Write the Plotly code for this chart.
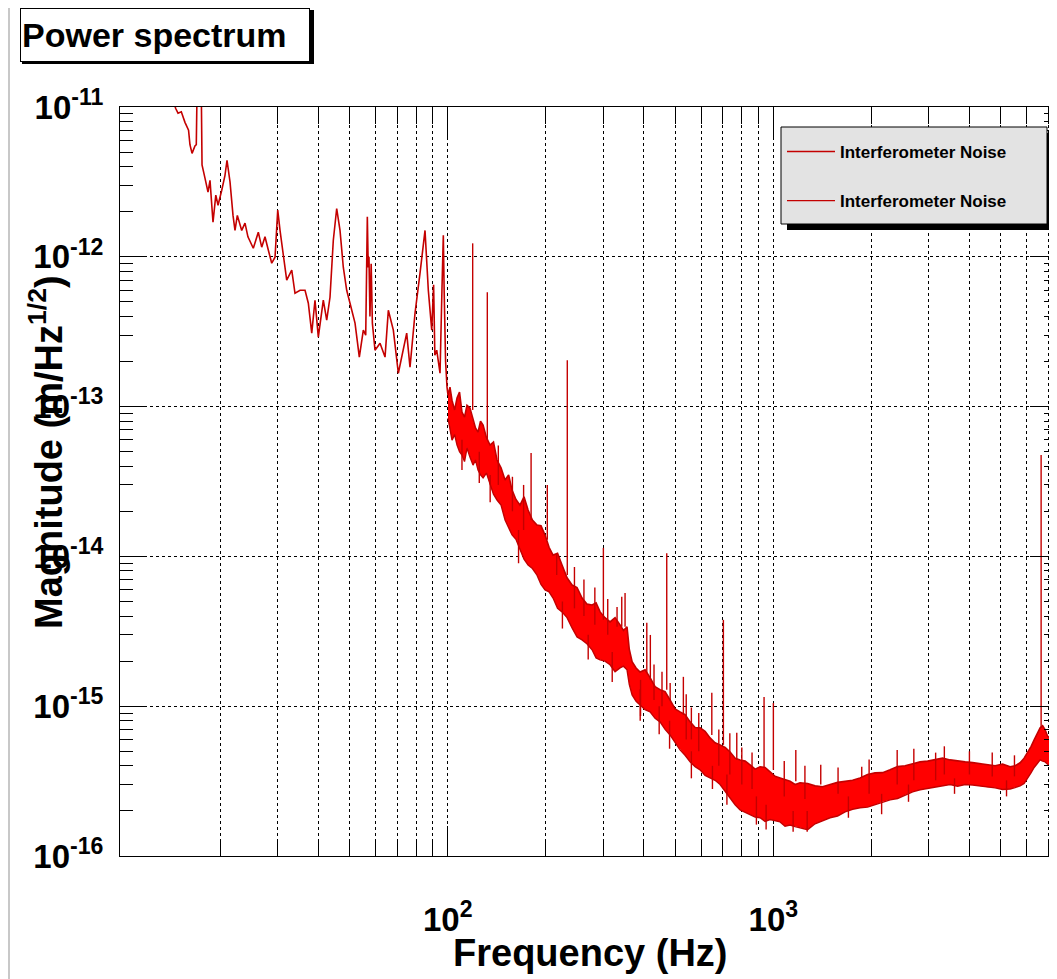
import plotly.graph_objects as go

# low-frequency part of the spectrum (thin jagged line), Hz / m/sqrt(Hz)
lf_freq = [14.0, 14.3, 14.6, 14.85, 15.2, 15.6, 16.0, 16.16, 16.4, 16.74, 16.9, 17.0, 17.5, 17.6,
           17.97, 18.36, 18.62, 18.9, 19.02, 19.4, 19.71, 20.23, 20.7, 21.0, 21.45, 21.91, 22.22,
           22.59, 23.3, 23.85, 24.35, 25.29, 26.2, 26.84, 27.47, 28.12, 28.81, 29.49, 30.06, 30.55,
           31.27, 32.03, 33.19, 33.96, 35.2, 36.46, 37.32, 38.23, 39.12, 40.05, 41.49, 42.5, 43.5,
           44.53, 45.61, 46.69, 47.79, 48.95, 50.11, 51.92, 53.52, 55.06, 56.0, 56.64, 57.0, 57.3,
           57.7, 58.2, 58.7, 59.8, 61.96, 64.19, 65.71, 68.07, 70.52, 73.06, 74.82, 76.59, 79.35,
           82.21, 85.17, 87.18, 89.31, 90.5, 91.3, 92.52, 94.71, 96.0, 96.94, 97.5, 98.5, 99.5]
lf_mag = [1.2e-11, 1.15e-11, 9.8e-12, 9.1e-12, 9.3e-12, 7.9e-12, 7.0e-12, 5.6e-12, 4.9e-12, 5.5e-12,
          5.6e-12, 1.4e-11, 1.4e-11, 4.1e-12, 3.35e-12, 2.7e-12, 3.24e-12, 2.11e-12, 1.7e-12, 2.58e-12,
          2.21e-12, 2.78e-12, 3.5e-12, 4.41e-12, 3.16e-12, 1.89e-12, 1.5e-12, 1.89e-12, 1.5e-12,
          1.68e-12, 1.36e-12, 1.14e-12, 1.46e-12, 1.16e-12, 1.36e-12, 1.11e-12, 9.06e-13, 9.93e-13,
          2.05e-12, 1.5e-12, 1.06e-12, 6.98e-13, 8.14e-13, 5.71e-13, 5.98e-13, 5.98e-13, 4.9e-13,
          3.09e-13, 5.13e-13, 2.91e-13, 5.13e-13, 3.78e-13, 5.37e-13, 1.29e-12, 2.1e-12, 1.5e-12,
          8.52e-13, 5.98e-13, 4.9e-13, 3.61e-13, 2.14e-13, 3.24e-13, 3.0e-13, 1.85e-12, 8.5e-13,
          1.0e-12, 4.0e-13, 9.0e-13, 3.6e-13, 2.38e-13, 2.65e-13, 2.14e-13, 4.4e-13, 3.24e-13,
          1.67e-13, 2.38e-13, 3.09e-13, 1.83e-13, 4.2e-13, 7.78e-13, 1.5e-12, 5.98e-13, 3.24e-13,
          6.5e-13, 2.2e-13, 2.38e-13, 1.67e-13, 6.0e-13, 1.39e-12, 5.98e-13, 2.0e-13, 1.35e-13]

# dense noise band above ~100 Hz: upper and lower edge
band_freq = [100.2, 101.6, 103.1, 105.0, 106.8, 108.7, 110.6, 112.6, 114.6, 117.0, 119.6, 121.7,
             123.9, 126.1, 128.4, 131.5, 134.9, 138.2, 141.7, 145.8, 150.0, 153.8, 157.6, 162.0,
             166.7, 171.5, 176.5, 182.0, 188.0, 193.4, 199.0, 204.7, 210.6, 217.4, 224.4, 232.5,
             240.9, 249.5, 258.5, 268.0, 277.5, 285.5, 293.7, 304.0, 315.1, 326.5, 338.2, 346.5,
             355.3, 361.0, 368.3, 378.8, 389.6, 403.7, 418.2, 433.2, 448.7, 465.0, 481.6, 499.0,
             517.0, 535.6, 554.9, 575.0, 595.6, 617.0, 639.2, 662.0, 686.1, 711.0, 736.4, 763.0,
             790.3, 819.0, 848.2, 879.0, 910.3, 943.0, 977.0, 1012, 1048.6, 1086, 1125.4, 1166,
             1207.9, 1274, 1343, 1416, 1493, 1575, 1661, 1751, 1846, 1947, 2053, 2165, 2283, 2407,
             2539, 2677, 2822, 2976, 3138, 3309, 3489, 3679, 3880, 4091, 4314, 4549, 4797, 5058,
             5333, 5525, 5725, 5889, 6058, 6188, 6321, 6457, 6596, 6713, 6833, 6954, 7078, 7250,
             7437]
band_hi = [1.19e-13, 1.35e-13, 1.10e-13, 9.5e-14, 1.14e-13, 1.25e-13, 9.19e-14, 8.5e-14, 1.02e-13,
           9.8e-14, 8.13e-14, 7.2e-14, 6.76e-14, 8.0e-14, 7.53e-14, 6.2e-14, 5.54e-14, 5.8e-14,
           4.40e-14, 3.9e-14, 3.24e-14, 3.5e-14, 2.77e-14, 2.4e-14, 2.20e-14, 2.5e-14, 2.04e-14,
           1.75e-14, 1.62e-14, 1.6e-14, 1.39e-14, 1.15e-14, 1.02e-14, 1.05e-14, 8.76e-15, 7.2e-15,
           6.44e-15, 6.2e-15, 5.27e-15, 4.8e-15, 4.74e-15, 4.9e-15, 4.26e-15, 3.9e-15, 3.65e-15,
           3.9e-15, 3.49e-15, 3.2e-15, 3.39e-15, 2.4e-15, 1.98e-15, 1.8e-15, 1.69e-15, 1.75e-15,
           1.55e-15, 1.35e-15, 1.29e-15, 1.25e-15, 1.10e-15, 9.6e-16, 9.16e-16, 8.8e-16, 7.86e-16,
           7.2e-16, 7.17e-16, 6.8e-16, 6.14e-16, 5.7e-16, 5.52e-16, 5.3e-16, 4.95e-16, 4.5e-16,
           4.38e-16, 4.3e-16, 4.06e-16, 3.8e-16, 3.94e-16, 3.9e-16, 3.65e-16, 3.4e-16, 3.32e-16,
           3.25e-16, 3.15e-16, 3.0e-16, 3.08e-16, 3.05e-16, 2.94e-16, 2.9e-16, 2.99e-16, 3.1e-16,
           3.15e-16, 3.2e-16, 3.32e-16, 3.5e-16, 3.59e-16, 3.6e-16, 3.76e-16, 3.95e-16, 4.0e-16,
           4.1e-16, 4.25e-16, 4.3e-16, 4.38e-16, 4.5e-16, 4.38e-16, 4.3e-16, 4.25e-16, 4.2e-16,
           4.12e-16, 4.05e-16, 4.0e-16, 4.1e-16, 3.94e-16, 4.0e-16, 4.19e-16, 4.5e-16, 4.95e-16,
           5.4e-16, 5.96e-16, 6.6e-16, 7.17e-16, 7.4e-16, 6.95e-16, 6.3e-16, 6.14e-16, 5.2e-16,
           4.52e-16]
band_lo = [8.38e-14, 7.0e-14, 5.97e-14, 6.5e-14, 5.54e-14, 5.0e-14, 4.75e-14, 4.3e-14, 5.29e-14,
           4.6e-14, 4.07e-14, 4.4e-14, 3.77e-14, 3.5e-14, 3.34e-14, 3.6e-14, 2.99e-14, 2.6e-14,
           2.38e-14, 2.2e-14, 1.75e-14, 1.55e-14, 1.39e-14, 1.3e-14, 1.10e-14, 9.6e-15, 8.76e-15,
           8.3e-15, 7.5e-15, 6.5e-15, 5.97e-15, 5.8e-15, 5.27e-15, 4.5e-15, 4.26e-15, 3.9e-15,
           3.33e-15, 2.9e-15, 2.77e-15, 2.6e-15, 2.38e-15, 2.1e-15, 2.04e-15, 2.0e-15, 1.89e-15,
           1.7e-15, 1.80e-15, 1.85e-15, 1.75e-15, 1.4e-15, 1.19e-15, 1.08e-15, 1.02e-15, 9.5e-16,
           9.16e-16, 8.3e-16, 7.86e-16, 7.0e-16, 6.43e-16, 5.7e-16, 5.11e-16, 4.7e-16, 4.25e-16,
           3.95e-16, 3.76e-16, 3.45e-16, 3.32e-16, 3.2e-16, 3.0e-16, 2.7e-16, 2.44e-16, 2.2e-16,
           2.03e-16, 1.95e-16, 1.88e-16, 1.82e-16, 1.80e-16, 1.7e-16, 1.75e-16, 1.72e-16, 1.69e-16,
           1.58e-16, 1.61e-16, 1.57e-16, 1.54e-16, 1.5e-16, 1.64e-16, 1.72e-16, 1.80e-16, 1.85e-16,
           1.97e-16, 2.05e-16, 2.10e-16, 2.12e-16, 2.20e-16, 2.3e-16, 2.37e-16, 2.42e-16, 2.56e-16,
           2.68e-16, 2.77e-16, 2.82e-16, 2.90e-16, 2.95e-16, 3.0e-16, 2.92e-16, 3.0e-16, 2.98e-16,
           2.94e-16, 2.88e-16, 2.85e-16, 2.78e-16, 2.80e-16, 2.86e-16, 2.94e-16, 3.05e-16, 3.32e-16,
           3.6e-16, 3.9e-16, 4.1e-16, 4.38e-16, 4.3e-16, 4.25e-16, 4.1e-16, 4.0e-16, 3.8e-16,
           3.65e-16]

# narrow lines sticking out of the band (from / to)
spike_freq = [119.3, 132.3, 180.3, 202.2, 216.1, 232.9, 300.6, 331.1, 342.3, 350.4, 408.6, 419.0,
              470.5, 482.0, 529.2, 647.1, 702.3, 772.0, 936.3, 1000.0, 1172.0, 1398.0, 1868.0,
              6641.0, 110.6, 125.0, 391.0, 446.0, 650.0, 887.0, 1270.0, 1968.0, 2150.0, 3150.0,
              143, 158, 171, 245, 262, 283, 310, 430, 455, 540, 560, 590, 680, 735, 800, 860,
              1080, 1250, 1580, 2400, 2700, 3350, 4000, 4700, 5500,
              135, 165, 225, 270, 320, 390, 480, 560, 720, 950, 1150, 1700, 2600, 3600, 5200]
spike_base = [9.5e-14, 6.0e-14, 1.75e-14, 1.29e-14, 7.5e-15, 7.5e-15, 3.77e-15, 3.39e-15, 3.39e-15,
              3.39e-15, 1.67e-15, 1.50e-15, 1.29e-15, 1.10e-15, 8.75e-16, 6.43e-16, 5.52e-16,
              4.38e-16, 3.9e-16, 3.76e-16, 3.15e-16, 3.0e-16, 3.35e-16, 7.17e-16, 6.0e-14, 5.0e-14,
              1.5e-15, 1.0e-15, 4.0e-16, 2.5e-16, 2.0e-16, 2.6e-16, 2.6e-16, 3.2e-16,
              3.0e-14, 2.0e-14, 1.5e-14, 4.5e-15, 4.0e-15, 3.5e-15, 3.0e-15, 1.1e-15, 1.0e-15,
              6.0e-16, 6.0e-16, 5.0e-16, 4.0e-16, 3.5e-16, 3.0e-16, 2.8e-16, 2.5e-16, 2.4e-16,
              2.6e-16, 3.0e-16, 3.2e-16, 3.5e-16, 3.5e-16, 3.4e-16, 3.4e-16,
              3.5e-14, 1.5e-14, 5.0e-15, 3.0e-15, 2.3e-15, 1.3e-15, 8.0e-16, 5.0e-16, 3.5e-16,
              2.2e-16, 2.0e-16, 2.5e-16, 3.0e-16, 3.3e-16, 3.2e-16]
spike_top = [1.23e-12, 5.8e-13, 4.9e-14, 3.0e-14, 1.05e-14, 2.04e-13, 1.14e-14, 4.6e-15, 5.37e-15,
             5.7e-15, 3.6e-15, 2.99e-15, 1.05e-14, 1.43e-15, 1.57e-15, 1.23e-15, 3.77e-15, 6.64e-16,
             1.15e-15, 1.05e-15, 5.11e-16, 4.06e-16, 3.94e-16, 4.75e-14, 3.77e-14, 3.09e-14,
             8.6e-16, 6.5e-16, 2.8e-16, 1.62e-16, 1.45e-16, 4.4e-16, 1.9e-16, 4.9e-16,
             5.5e-14, 3.4e-14, 3.0e-14, 8.5e-15, 7.0e-15, 6.2e-15, 5.2e-15, 1.9e-15, 1.7e-15,
             1.2e-15, 9.8e-16, 9.0e-16, 7.0e-16, 6.6e-16, 5.3e-16, 4.9e-16, 4.3e-16, 4.0e-16,
             3.9e-16, 5.1e-16, 5.2e-16, 5.4e-16, 5.0e-16, 4.9e-16, 4.7e-16,
             2.3e-14, 9.0e-15, 3.3e-15, 2.05e-15, 1.45e-15, 8.0e-16, 5.2e-16, 3.3e-16, 2.2e-16,
             1.5e-16, 1.45e-16, 1.8e-16, 2.3e-16, 2.6e-16, 2.5e-16]

x_major = [100, 1000]
x_major_text = ["10<sup>2</sup>", "10<sup>3</sup>"]
x_minor = [20, 30, 40, 50, 60, 70, 80, 90, 200, 300, 400, 500, 600, 700, 800, 900,
           2000, 3000, 4000, 5000, 6000, 7000]
y_major = [1e-16, 1e-15, 1e-14, 1e-13, 1e-12, 1e-11]
y_major_text = ["10<sup>-16</sup>", "10<sup>-15</sup>", "10<sup>-14</sup>",
                "10<sup>-13</sup>", "10<sup>-12</sup>", "10<sup>-11</sup>"]
y_minor = [m * d for d in [1e-16, 1e-15, 1e-14, 1e-13, 1e-12] for m in range(2, 10)]

RED = "#ff0000"
DARK = "#c40000"

fig = go.Figure()

# filled noise band
fig.add_trace(go.Scatter(x=band_freq + band_freq[::-1], y=band_hi + band_lo[::-1],
                         fill="toself", fillcolor=RED, mode="lines", line=dict(width=0),
                         showlegend=False, hoverinfo="skip"))

# trace 1: low-frequency curve continuing along the band top
fig.add_trace(go.Scatter(x=lf_freq + band_freq, y=lf_mag + band_hi, mode="lines",
                         line=dict(color=DARK, width=1.6), name="Interferometer Noise",
                         legendgroup="a"))

# trace 2: band bottom plus the narrow lines
sx, sy = list(band_freq), list(band_lo)
for f, b, t in zip(spike_freq, spike_base, spike_top):
    sx += [None, f, f]
    sy += [None, b, t]
fig.add_trace(go.Scatter(x=sx, y=sy, mode="lines", line=dict(color=DARK, width=1.4),
                         name="Interferometer Noise", legendgroup="b"))

tick_font = dict(family="Liberation Sans", size=33, color="black", weight="bold")
grid = dict(gridcolor="black", griddash="dot", gridwidth=1)

fig.update_xaxes(type="log", range=[0.9936, 3.871], tickmode="array", tickvals=x_major,
                 ticktext=x_major_text, tickfont=tick_font, ticks="inside", ticklen=30,
                 tickcolor="black", showline=True, linecolor="black", linewidth=1,
                 mirror="allticks", showgrid=True, ticklabelstandoff=34, zeroline=False,
                 minor=dict(tickmode="array", tickvals=x_minor, ticks="inside", ticklen=17,
                            tickcolor="black", showgrid=True, **grid), **grid)
fig.update_yaxes(type="log", range=[-16, -11], tickmode="array", tickvals=y_major,
                 ticktext=y_major_text, tickfont=tick_font, ticks="inside", ticklen=27,
                 tickcolor="black", showline=True, linecolor="black", linewidth=1,
                 mirror="allticks", showgrid=True, ticklabelstandoff=9, zeroline=False,
                 minor=dict(tickmode="array", tickvals=y_minor, ticks="inside", ticklen=13,
                            tickcolor="black", showgrid=False), **grid)

title_font = dict(family="Liberation Sans", size=38, color="black", weight="bold")

# the page puts the figure 8px in from the corner; helpers map window pixels to paper
# (plot area sits at 120..1057 x 107..856 in the window)
def px(x):
    return (x - 120) / 937.0

def py(y):
    return (856 - y) / 749.0

fig.add_annotation(text="Frequency (Hz)", xref="paper", yref="paper", x=px(590), y=py(953),
                   showarrow=False, font=title_font, xanchor="center", yanchor="middle")
fig.add_annotation(text="Magnitude (m/Hz<sup>1/2</sup>)", xref="paper", yref="paper",
                   x=px(46), y=py(452), textangle=-90, showarrow=False, font=title_font,
                   xanchor="center", yanchor="middle")

# title box with small shadow
fig.add_shape(type="rect", xref="paper", yref="paper", x0=px(22), x1=px(314), y0=py(64), y1=py(10),
              fillcolor="black", line=dict(width=0))
fig.add_annotation(text="Power spectrum", xref="paper", yref="paper", x=px(20), y=py(8),
                   xanchor="left", yanchor="top", showarrow=False, align="left",
                   width=286, height=50, bgcolor="white", bordercolor="black", borderwidth=1,
                   borderpad=1, font=dict(family="Liberation Sans", size=34, color="black",
                                          weight="bold"))

# legend frame with shadow
fig.add_shape(type="rect", xref="paper", yref="paper", x0=px(787), x1=px(1053), y0=py(230),
              y1=py(133), fillcolor="black", line=dict(width=0), layer="above")
fig.add_shape(type="rect", xref="paper", yref="paper", x0=px(781), x1=px(1047), y0=py(224),
              y1=py(127), fillcolor="#e3e3e3", line=dict(color="black", width=1), layer="above")

# light outer frame of the canvas (left edge)
fig.add_shape(type="line", xref="paper", yref="paper", x0=px(9), x1=px(9), y0=py(985),
              y1=py(8), line=dict(color="#c8c8c8", width=2), layer="below")

fig.update_layout(
    width=1049, height=971,
    margin=dict(l=112, r=0, t=99, b=123),
    paper_bgcolor="white", plot_bgcolor="white",
    legend=dict(x=px(782), y=py(134), xanchor="left", yanchor="top", bgcolor="rgba(0,0,0,0)",
                borderwidth=0, traceorder="grouped", tracegroupgap=24, itemwidth=48,
                font=dict(family="Liberation Sans", size=17, color="black", weight="bold")),
)

fig.write_html("out.html")
